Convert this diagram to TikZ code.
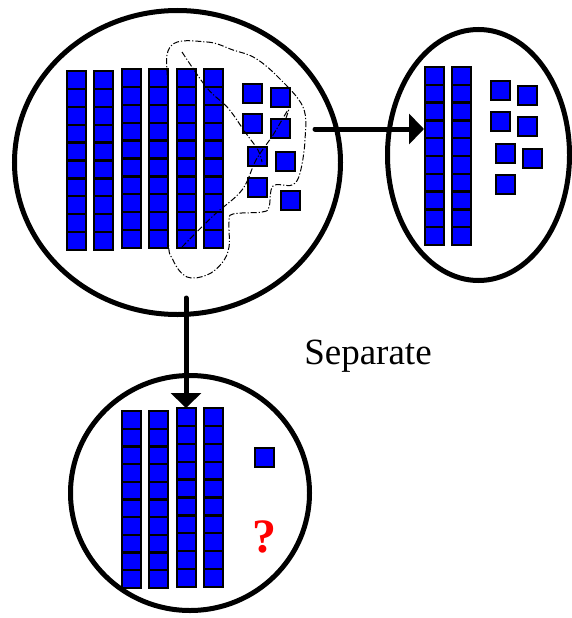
\documentclass[tikz,border=0pt]{standalone}
\usepackage{fontspec}
\setmainfont{Liberation Serif}
\usetikzlibrary{arrows.meta}

\tikzset{
	cell/.style={draw=black, fill=blue, line width=2.3pt},
	ring/.style={draw=black, line width=5pt},
	move/.style={line width=5pt, line cap=round, -{Triangle[length=15pt,width=30pt]}},
	lasso/.style={line width=1pt, dash pattern=on 6pt off 2pt on 1.2pt off 2pt}
}

% one rod of ten: x, y of top, height of a cell
\newcommand{\tenrod}[3]{
	\foreach \k in {0,...,9}
		\draw[cell] (#1,{#2+#3*\k}) rectangle ++(19,#3);
}
\newcommand{\oneunit}[2]{\draw[cell] (#1,#2) rectangle ++(19,19);}

\begin{document}
\begin{tikzpicture}[x=1pt,y=-1pt]
	\useasboundingbox (0,0) rectangle (572,618);
	
	\draw[ring] (177.5,162.5) ellipse [x radius=163, y radius=152];
	\draw[ring] (478.5,155) ellipse [x radius=91, y radius=125.5];
	\draw[ring] (190,493) ellipse [x radius=119.5, y radius=117.5];
	
	% whole number
	\tenrod{67}{71}{17.9}
	\tenrod{94}{71}{17.9}
	\tenrod{122}{69}{17.9}
	\tenrod{149}{69}{17.9}
	\tenrod{177}{69}{17.9}
	\tenrod{204}{69}{17.9}
	\oneunit{243}{84}
	\oneunit{271}{88}
	\oneunit{243}{114}
	\oneunit{271}{119}
	\oneunit{248}{147}
	\oneunit{276}{152}
	\oneunit{248}{178}
	\oneunit{281}{191}
	
	\draw[lasso] plot [smooth cycle,tension=0.6] coordinates{(170,47) (207,42) (233,50) (255,58) (278,77) (303,107) (305,140) (300,173) (292,185) (273,186) (269,207) (262,212) (233,214) (229,222) (229,247) (222,263) (207,275) (187,277) (173,260) (168,233) (168,100)};
	\draw[lasso] plot [smooth,tension=0.6] coordinates{(182,52) (207,88) (228,108) (245,132) (258,150) (262,162)};
	\draw[lasso] plot [smooth,tension=0.6] coordinates{(182,247) (213,216) (242,190) (256,160) (273,135) (288,110) (286,118)};
	
	% part taken away
	\tenrod{425}{67}{17.8}
	\tenrod{452}{67}{17.8}
	\oneunit{491}{81}
	\oneunit{518}{86}
	\oneunit{491}{112}
	\oneunit{518}{117}
	\oneunit{496}{144}
	\oneunit{523}{149}
	\oneunit{496}{175}
	
	% what is left
	\tenrod{122}{411}{17.7}
	\tenrod{149}{411}{17.7}
	\tenrod{177}{408}{17.9}
	\tenrod{204}{408}{17.9}
	\oneunit{255}{448}
	\node[text=red, font=\bfseries\fontsize{48}{50}\selectfont, inner sep=0pt] (unknown) at (264,537) {?};
	
	\coordinate (bigout) at (315,129);
	\coordinate (partin) at (424,129);
	\coordinate (bigdown) at (186,298);
	\coordinate (restin) at (186,408);
	\draw[move] (bigout) -- (partin);
	\draw[move] (bigdown) -- (restin);
	
	\node[font=\fontsize{37}{44}\selectfont, inner sep=0pt] (label) at (368,356) {Separate};
	
\end{tikzpicture}
\end{document}
